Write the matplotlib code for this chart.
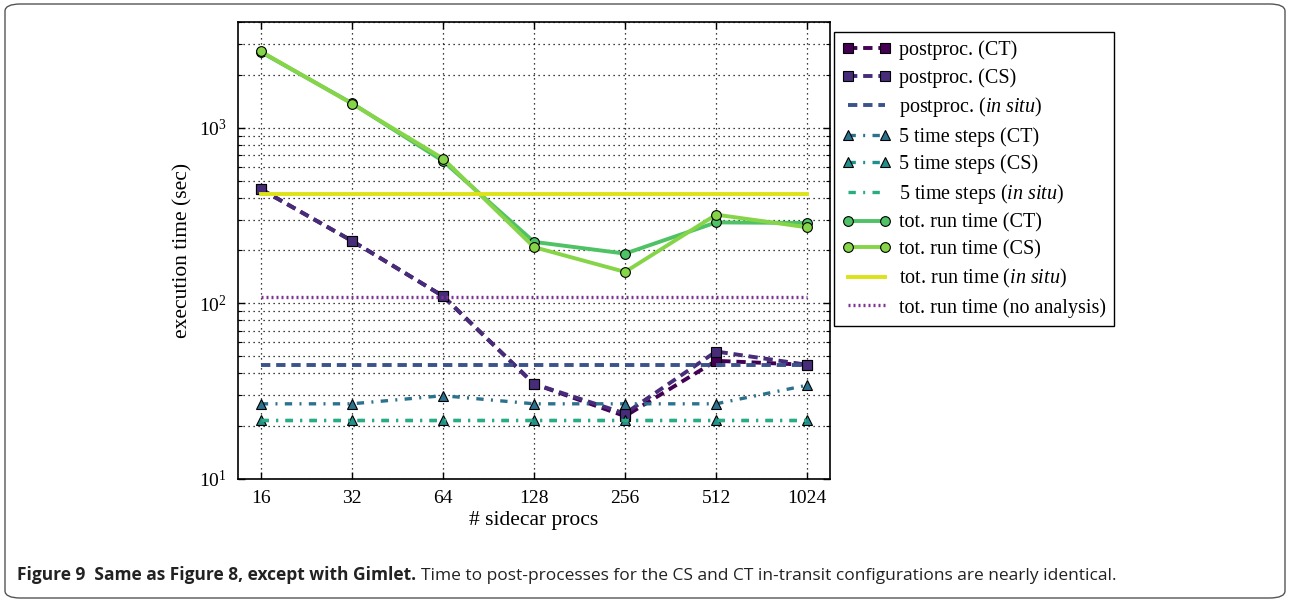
import matplotlib

matplotlib.use("Agg")
import matplotlib.pyplot as plt
import numpy as np
from matplotlib.patches import FancyBboxPatch
from matplotlib.ticker import NullLocator, FixedLocator, FixedFormatter

# data
procs = [16, 32, 64, 128, 256, 512, 1024]
postproc_ct = [447, 227, 110, 34.8, 22.8, 47.1, 44.7]
postproc_cs = [447, 227, 110, 34.8, 23.6, 53.2, 44.7]
postproc_insitu = 44.4
steps_ct = [26.8, 26.8, 29.8, 26.8, 26.8, 26.8, 34.2]
steps_cs = [21.6, 21.6, 21.6, 21.6, 21.6, 21.6, 21.6]
steps_insitu = 21.6
tot_ct = [2700, 1380, 647, 224, 192, 289, 287]
tot_cs = [2720, 1372, 668, 209, 151, 320, 271]
tot_insitu = 418
tot_noanalysis = 108

labels = [
    "postproc. (CT)",
    "postproc. (CS)",
    "postproc. ($\\mathit{in\\ situ}$)",
    "5 time steps (CT)",
    "5 time steps (CS)",
    "5 time steps ($\\mathit{in\\ situ}$)",
    "tot. run time (CT)",
    "tot. run time (CS)",
    "tot. run time ($\\mathit{in\\ situ}$)",
    "tot. run time (no analysis)",
]
colors = ["#440154", "#472c7a", "#3b528b", "#2c718e", "#21908d",
          "#27ad81", "#4fc265", "#86d549", "#dde318", "#7e3494"]

plt.rcParams["font.family"] = ["Liberation Serif", "DejaVu Serif"]
plt.rcParams["mathtext.fontset"] = "custom"
plt.rcParams["mathtext.rm"] = "Liberation Serif"
plt.rcParams["mathtext.it"] = "Liberation Serif:italic"
plt.rcParams["mathtext.bf"] = "Liberation Serif:bold"
plt.rcParams["font.size"] = 14

fig = plt.figure(figsize=(12.9, 6.02), dpi=100)
W, H = 1290, 602
ax = fig.add_axes([238 / W, 1 - 479 / H, (830 - 238) / W, (479 - 22) / H])

dash = (0, (2.4, 1.5))
dashdot = (0, (2.2, 2.2, 0.6, 2.2))
mk = dict(markeredgecolor="black", markeredgewidth=0.8)
lw = 2.4

ax.plot(procs, postproc_ct, color=colors[0], ls=dash, lw=lw + 0.4, marker="s", ms=7, label=labels[0], **mk)
ax.plot(procs, postproc_cs, color=colors[1], ls=dash, lw=lw + 0.4, marker="s", ms=7, label=labels[1], **mk)
ax.plot(procs, [postproc_insitu] * len(procs), color=colors[2], ls=dash, lw=lw + 0.4, label=labels[2])
ax.plot(procs, steps_ct, color=colors[3], ls=dashdot, lw=lw, marker="^", ms=7, label=labels[3], **mk)
ax.plot(procs, steps_cs, color=colors[4], ls=dashdot, lw=lw, marker="^", ms=7, label=labels[4], **mk)
ax.plot(procs, [steps_insitu] * len(procs), color=colors[5], ls=dashdot, lw=lw, label=labels[5])
ax.plot(procs, tot_ct, color=colors[6], ls="-", lw=lw + 0.4, marker="o", ms=7, label=labels[6], **mk)
ax.plot(procs, tot_cs, color=colors[7], ls="-", lw=lw + 0.4, marker="o", ms=7, label=labels[7], **mk)
ax.plot(procs, [tot_insitu] * len(procs), color=colors[8], ls="-", lw=lw + 0.4, label=labels[8])
ax.plot(procs, [tot_noanalysis] * len(procs), color=colors[9], ls=(0, (0.6, 0.9)), lw=lw, label=labels[9])

ax.set_xscale("log", base=2)
ax.set_yscale("log")
ax.set_xlim(13.45, 1218)
ax.set_ylim(10, 4000)
ax.xaxis.set_major_locator(FixedLocator(procs))
ax.xaxis.set_major_formatter(FixedFormatter([str(p) for p in procs]))
ax.xaxis.set_minor_locator(NullLocator())

ax.grid(True, which="major", axis="x", color="black", ls=(0, (1, 3)), lw=0.9)
ax.grid(True, which="both", axis="y", color="black", ls=(0, (1, 3)), lw=0.9)
ax.tick_params(which="both", direction="in", top=True, right=True, labelsize=14)
ax.tick_params(which="major", length=5, width=1, pad=8)
ax.tick_params(which="minor", length=3, width=0.8)
for s in ax.spines.values():
    s.set_linewidth(1.2)

ax.set_xlabel("# sidecar procs", fontsize=15.5, labelpad=3)
ax.set_ylabel("execution time (sec)", fontsize=15.5, labelpad=5)

leg = ax.legend(
    loc="upper left",
    bbox_to_anchor=(834 / W, 1 - 32 / H),
    bbox_transform=fig.transFigure,
    borderaxespad=0,
    fancybox=False,
    edgecolor="black",
    framealpha=1,
    fontsize=14.5,
    handlelength=2.4,
    handletextpad=0.4,
    labelspacing=0.38,
    numpoints=2,
    borderpad=0.42,
)
leg.get_frame().set_linewidth(1.0)

# rounded frame around the whole figure
frame = FancyBboxPatch(
    (5 / W, 4 / H), (W - 10) / W, (H - 8) / H,
    boxstyle="round,pad=0,rounding_size=0.012",
    transform=fig.transFigure, fill=False, edgecolor="#555555", lw=1.0,
)
fig.patches.append(frame)

# caption: bold lead-in followed by regular text
cap_font = ["Open Sans", "DejaVu Sans"]
base_y = 1 - 580 / H
t1 = fig.text(17 / W, base_y, "Figure 9  Same as Figure 8, except with Gimlet.",
              fontsize=12.5, fontweight="bold", family=cap_font, va="baseline", color="#222222")
fig.canvas.draw()
bb = t1.get_window_extent()
fig.text((bb.x1 + 5) / W, base_y,
         "Time to post-processes for the CS and CT in-transit configurations are nearly identical.",
         fontsize=12.5, family=cap_font, va="baseline", color="#222222")

fig.savefig("out.png", dpi=100)
